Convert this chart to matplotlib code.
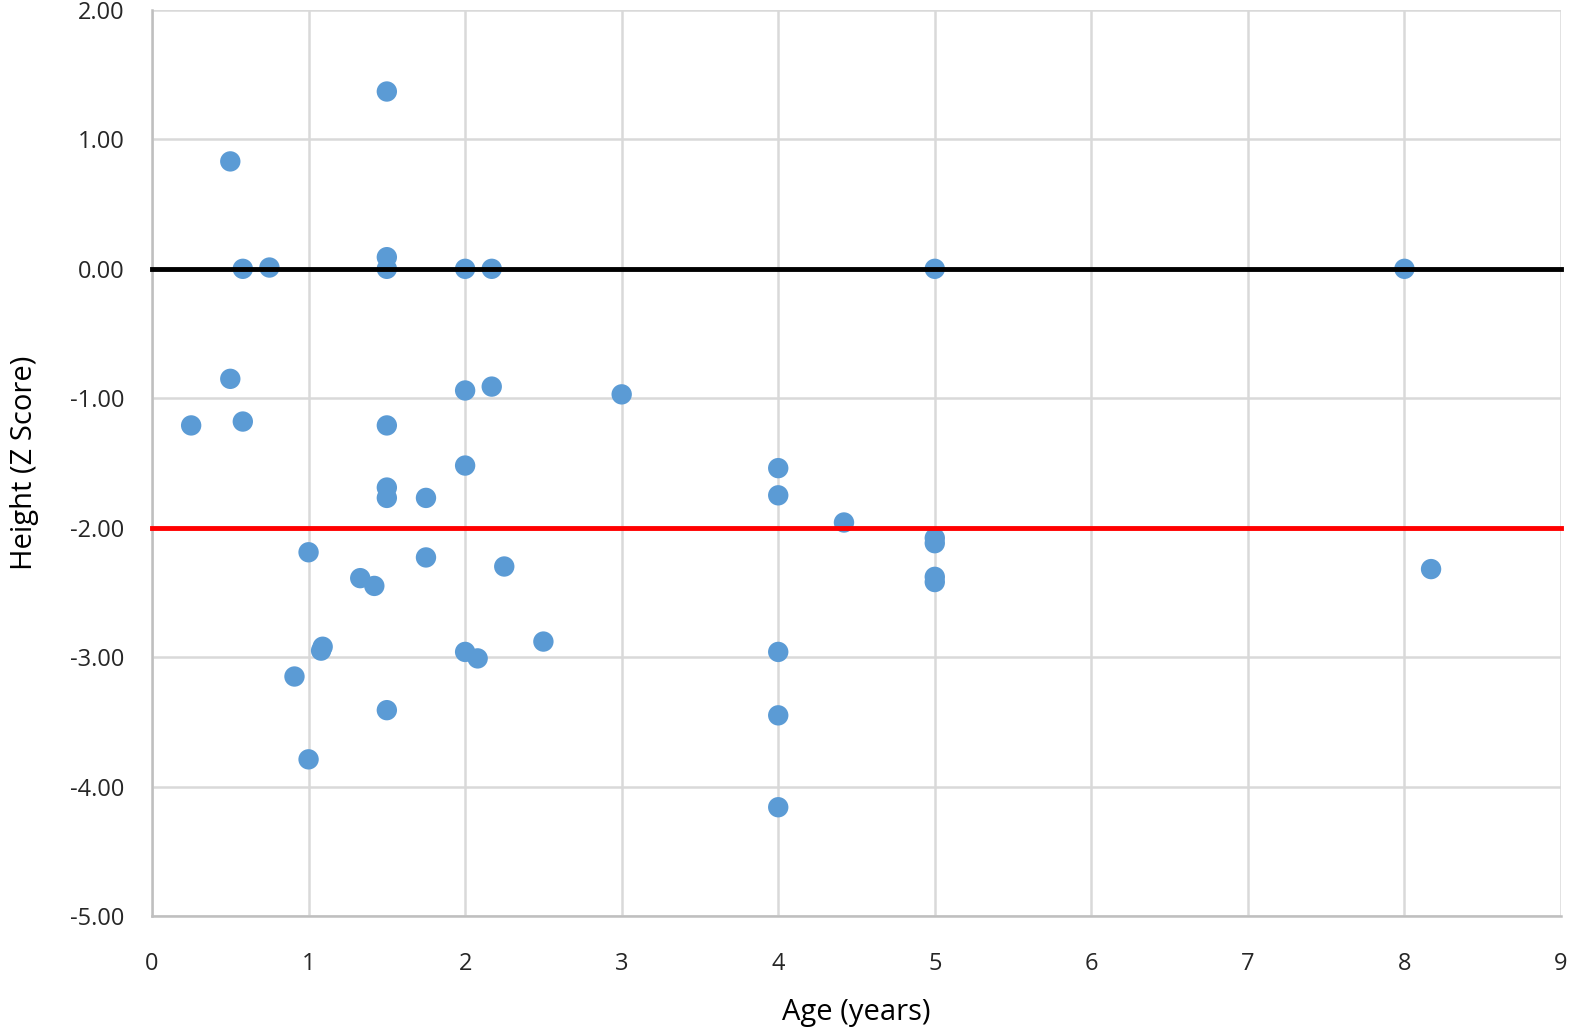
import matplotlib.pyplot as plt

# age (years) and height z-score
age = [1.5, 0.5, 0.58, 0.75, 1.5, 1.5, 2.0, 2.17, 5.0, 8.0,
       0.5, 0.25, 0.58, 1.5, 2.0, 2.17, 3.0, 2.0, 1.5, 1.5,
       1.75, 4.0, 4.0, 4.42, 5.0, 5.0, 5.0, 5.0, 1.0, 1.33,
       1.42, 1.75, 2.25, 8.17, 1.08, 1.09, 0.91, 1.5, 2.0, 2.08,
       2.5, 4.0, 4.0, 4.0, 1.0]
zscore = [1.37, 0.83, 0.0, 0.01, 0.09, 0.0, 0.0, 0.0, 0.0, 0.0,
          -0.85, -1.21, -1.18, -1.21, -0.94, -0.91, -0.97, -1.52, -1.69, -1.77,
          -1.77, -1.54, -1.75, -1.96, -2.08, -2.12, -2.38, -2.42, -2.19, -2.39,
          -2.45, -2.23, -2.30, -2.32, -2.95, -2.92, -3.15, -3.41, -2.96, -3.01,
          -2.88, -2.96, -3.45, -4.16, -3.79]

x_ticks = list(range(0, 10))
y_ticks = [2, 1, 0, -1, -2, -3, -4, -5]
mean_line = 0.0
cutoff_line = -2.0

plt.rcParams['font.family'] = ['Open Sans', 'DejaVu Sans']

fig = plt.figure(figsize=(15.72, 10.28), dpi=100)
ax = fig.add_axes([0.0967, 0.109, 0.8963, 0.8813])

ax.scatter(age, zscore, s=215, color='#5B9BD5', edgecolors='none', zorder=3)
ax.axhline(mean_line, color='black', lw=3.5, zorder=4, clip_on=False)
ax.axhline(cutoff_line, color='#FF0000', lw=3.5, zorder=4, clip_on=False)

ax.set_xlim(0, 9)
ax.set_ylim(-5, 2)
ax.set_xticks(x_ticks)
ax.set_yticks(y_ticks)
ax.set_yticklabels([f'{v:.2f}' for v in y_ticks])
ax.grid(True, color='#D9D9D9', lw=1.8)
ax.set_axisbelow(True)

for side in ['top', 'right']:
    ax.spines[side].set_visible(False)
for side in ['left', 'bottom']:
    ax.spines[side].set_color('#BFBFBF')
    ax.spines[side].set_linewidth(1.8)

ax.tick_params(length=0, labelsize=17, colors='#262626', pad=20)
ax.tick_params(axis='x', pad=26)
ax.set_xlabel('Age (years)', fontsize=21, color='black', labelpad=16)
ax.set_ylabel('Height (Z Score)', fontsize=21, color='black', labelpad=22)

fig.savefig('out.png', dpi=100)
